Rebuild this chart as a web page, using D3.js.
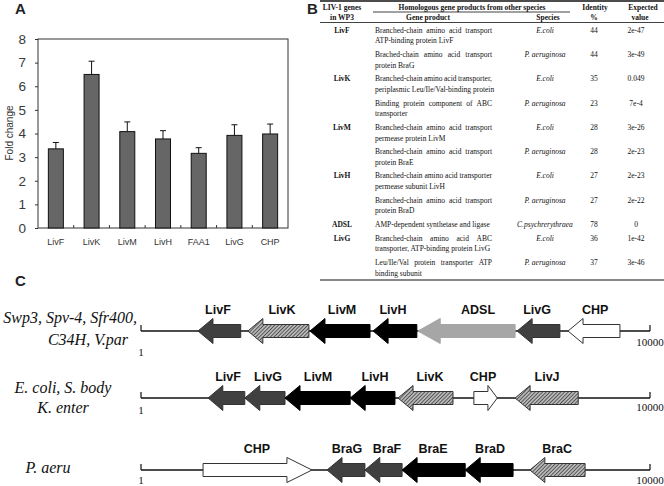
<!DOCTYPE html>
<html><head><meta charset="utf-8">
<script src="https://cdn.jsdelivr.net/npm/d3@7"></script>
<style>body{margin:0;background:#fff;} svg{display:block}</style>
</head><body>
<svg id="chart" width="664" height="486"></svg>
<script>
// ---------- Panel A data ----------
const barCategories = ["LivF","LivK","LivM","LivH","FAA1","LivG","CHP"];
const barValues = [3.35, 6.5, 4.08, 3.77, 3.16, 3.92, 3.98];
const barErrors = [0.27, 0.56, 0.41, 0.35, 0.24, 0.45, 0.42];
const yTickValues = [0,1,2,3,4,5,6,7,8];

// ---------- Panel B data ----------
const tableHeadTop = ["LIV-1 genes","Homologous gene products from other species","Identity","Expected"];
const tableHeadBottom = ["in WP3","Gene product","Species","%","value"];
const tableGenes = ["LivF","","LivK","","LivM","","LivH","","ADSL","LivG",""];
const tableProducts = [
  ["Branched-chain amino acid transport","ATP-binding protein LivF"],
  ["Brached-chain amino acid transport","protein BraG"],
  ["Branched-chain amino acid transporter,","periplasmic Leu/Ile/Val-binding protein"],
  ["Binding protein component of ABC","transporter"],
  ["Branched-chain amino acid transport","permease protein LivM"],
  ["Branched-chain amino acid transport","protein BraE"],
  ["Branched-chain amino acid transporter","permease subunit LivH"],
  ["Branched-chain amino acid transport","protein BraD"],
  ["AMP-dependent synthetase and ligase"],
  ["Branched-chain amino acid ABC","transporter, ATP-binding protein LivG"],
  ["Leu/Ile/Val protein transporter ATP","binding subunit"]
];
const tableSpecies = ["E.coli","P. aeruginosa","E.coli","P. aeruginosa","E.coli","P. aeruginosa","E.coli","P. aeruginosa","C.psychrerythraea","E.coli","P. aeruginosa"];
const tableIdentity = ["44","44","35","23","28","28","27","27","78","36","37"];
const tableEvalue = ["2e-47","3e-49","0.049","7e-4","3e-26","2e-23","2e-23","2e-22","0","1e-42","3e-46"];

// ---------- Panel C data ----------
// [gene, start bp, end bp, strand, kind, label centre bp]
const clusterLabels = [["Swp3, Spv-4, Sfr400,","C34H, V.par"],["E. coli, S. body","K. enter"],["P. aeru"]];
const clusterSwp3 = [
  ["LivF",1120,1960,-1,"dark",1513],
  ["LivK",2100,3300,-1,"hatch",2771],
  ["LivM",3320,4500,-1,"black",3950],
  ["LivH",4560,5420,-1,"black",4952],
  ["ADSL",5440,7350,-1,"light",6622],
  ["LivG",7390,8230,-1,"dark",7782],
  ["CHP",8390,9410,-1,"white",8922]
];
const clusterEcoli = [
  ["LivF",1320,2040,-1,"dark",1710],
  ["LivG",2040,2830,-1,"dark",2496],
  ["LivM",2830,4110,-1,"black",3478],
  ["LivH",4110,4990,-1,"black",4598],
  ["LivK",5050,6130,-1,"hatch",5679],
  ["CHP",6540,7000,1,"white",6720],
  ["LivJ",7350,8590,-1,"hatch",7978]
];
const clusterPaeru = [
  ["CHP",1220,3360,1,"white",2280],
  ["BraG",3655,4400,-1,"dark",4048],
  ["BraF",4400,5130,-1,"dark",4834],
  ["BraE",5130,6370,-1,"black",5738],
  ["BraD",6370,7310,-1,"black",6858],
  ["BraC",7640,8725,-1,"hatch",8175]
];
const clusterRange = [1, 10000];

const svg = d3.select("#chart");
const sans = "'Liberation Sans', Arial, sans-serif";
const serif = "'Liberation Serif', 'Times New Roman', serif";

// ================= Panel A =================
const A = svg.append("g");
A.append("text").attr("x",15).attr("y",14).attr("font-family",sans).attr("font-weight","bold")
  .attr("font-size",15).attr("fill","#222").text("A");
const x = d3.scaleBand().domain(barCategories).range([38,288]);
const y = d3.scaleLinear().domain([0,8]).range([228,39]);
const barW = 15;

const yAxis = A.append("g").attr("transform","translate(38,0)")
  .call(d3.axisLeft(y).tickValues(yTickValues).tickSize(3).tickPadding(9).tickFormat(d3.format("d")));
yAxis.select(".domain").remove();
yAxis.selectAll("line").attr("stroke","#333");
yAxis.selectAll("text").attr("font-family",sans).attr("font-size",13.5).attr("fill","#3a3a3a");

A.append("rect").attr("x",38).attr("y",39).attr("width",250).attr("height",189)
  .attr("fill","none").attr("stroke","#333").attr("stroke-width",1);
A.selectAll(".xt").data(barCategories.slice(1)).enter().append("line")
  .attr("x1",d=>x(d)).attr("x2",d=>x(d)).attr("y1",228).attr("y2",225).attr("stroke","#333");

A.selectAll(".bar").data(barCategories).enter().append("rect")
  .attr("x",d=>x(d)+x.bandwidth()/2-barW/2).attr("width",barW)
  .attr("y",(d,i)=>y(barValues[i])).attr("height",(d,i)=>y(0)-y(barValues[i]))
  .attr("fill","#666").attr("stroke","#111").attr("stroke-width",1);
A.selectAll(".err").data(barCategories).enter().append("path")
  .attr("d",(d,i)=>{const cx=x(d)+x.bandwidth()/2, t=y(barValues[i]+barErrors[i]), b=y(barValues[i]);
    return `M${cx},${b}V${t}M${cx-3},${t}H${cx+3}`;})
  .attr("stroke","#111").attr("stroke-width",1).attr("fill","none");
A.selectAll(".xl").data(barCategories).enter().append("text")
  .attr("x",d=>x(d)+x.bandwidth()/2).attr("y",245).attr("text-anchor","middle")
  .attr("font-family",sans).attr("font-size",9).attr("fill","#333").text(d=>d);
A.append("text").attr("transform","translate(13,133) rotate(-90)").attr("text-anchor","middle")
  .attr("font-family",sans).attr("font-size",10).attr("fill","#333").text("Fold change");

// ================= Panel B =================
const B = svg.append("g").attr("font-family",serif).attr("font-size",7.5).attr("fill","#111");
svg.append("text").attr("x",307).attr("y",14).attr("font-family",sans).attr("font-weight","bold")
  .attr("font-size",15).attr("fill","#222").text("B");
const colGene = 342, prodX0 = 375, prodX1 = 492, colSpecies = 545, colId = 594, colE = 636;
const hb = B.append("g").attr("font-weight","bold");
[[tableHeadTop[0],colGene],[tableHeadTop[1],472],[tableHeadTop[2],595],[tableHeadTop[3],643]]
  .forEach(([t,cx])=>hb.append("text").attr("x",cx).attr("y",9.5).attr("text-anchor","middle").text(t));
[[tableHeadBottom[0],colGene],[tableHeadBottom[1],428],[tableHeadBottom[2],548],[tableHeadBottom[3],594],[tableHeadBottom[4],640]]
  .forEach(([t,cx])=>hb.append("text").attr("x",cx).attr("y",19.5).attr("text-anchor","middle").text(t));
B.append("line").attr("x1",320).attr("x2",664).attr("y1",1).attr("y2",1).attr("stroke","#111").attr("stroke-width",1.6);
B.append("line").attr("x1",373).attr("x2",570).attr("y1",12).attr("y2",12).attr("stroke","#111").attr("stroke-width",0.8);
B.append("line").attr("x1",320).attr("x2",664).attr("y1",22.5).attr("y2",22.5).attr("stroke","#111").attr("stroke-width",0.8);

function justify(g, str, x0, x1, yy){
  const words = str.split(" ");
  const nodes = words.map(w=>g.append("text").attr("y",yy).text(w));
  const widths = nodes.map(n=>n.node().getComputedTextLength());
  const gap = (x1-x0-d3.sum(widths))/Math.max(1,words.length-1);
  let cx = x0;
  nodes.forEach((n,i)=>{n.attr("x",cx); cx += widths[i]+gap;});
}
let lineY = 30;
const within = 10.7, between = 13.6;
tableProducts.forEach((lines,i)=>{
  const base = lineY + 2.6;
  if (tableGenes[i]) B.append("text").attr("x",colGene).attr("y",base).attr("text-anchor","middle")
      .attr("font-weight","bold").text(tableGenes[i]);
  B.append("text").attr("x",colSpecies).attr("y",base).attr("text-anchor","middle")
      .attr("font-style","italic").text(tableSpecies[i]);
  B.append("text").attr("x",colId).attr("y",base).attr("text-anchor","middle").text(tableIdentity[i]);
  B.append("text").attr("x",colE).attr("y",base).attr("text-anchor","middle").text(tableEvalue[i]);
  lines.forEach((ln,j)=>{
    const yy = lineY + 2.6 + j*within;
    if (j < lines.length-1) justify(B, ln, prodX0, prodX1, yy);
    else B.append("text").attr("x",prodX0).attr("y",yy).text(ln);
  });
  lineY += (lines.length-1)*within + between;
});
B.append("line").attr("x1",320).attr("x2",664).attr("y1",280).attr("y2",280).attr("stroke","#111").attr("stroke-width",1);

// ================= Panel C =================
const defs = svg.append("defs");
const pat = defs.append("pattern").attr("id","hatch").attr("patternUnits","userSpaceOnUse")
  .attr("width",2.6).attr("height",2.6).attr("patternTransform","rotate(45)");
pat.append("rect").attr("width",2.6).attr("height",2.6).attr("fill","#b8b8b8");
pat.append("line").attr("x1",0).attr("x2",0).attr("y1",0).attr("y2",2.6).attr("stroke","#2a2a2a").attr("stroke-width",1.3);

svg.append("text").attr("x",15).attr("y",286).attr("font-family",sans).attr("font-weight","bold")
  .attr("font-size",15).attr("fill","#222").text("C");

const bp = d3.scaleLinear().domain(clusterRange).range([141,650]);
const fills = {dark:"#404040", black:"#000", hatch:"url(#hatch)", light:"#a6a6a6", white:"#fff"};
const strokes = {dark:"#333", black:"#000", hatch:"#333", light:"#a6a6a6", white:"#333"};

const rowsLayout = [
  {genes: clusterSwp3, cy:331, lab:[[137,323,"end"],[88,345,"middle"]], one:356, end:346},
  {genes: clusterEcoli, cy:398, lab:[[63,393,"middle"],[63,413,"middle"]], one:414, end:411},
  {genes: clusterPaeru, cy:470, lab:[[48,473,"middle"]], one:484, end:484}
];
const H = 25, Bh = 13;
rowsLayout.forEach((row,ri)=>{
  const g = svg.append("g");
  const cy = row.cy;
  g.append("line").attr("x1",bp(clusterRange[0])).attr("x2",bp(clusterRange[1])).attr("y1",cy).attr("y2",cy)
    .attr("stroke","#111").attr("stroke-width",1.5);
  g.append("line").attr("x1",bp(clusterRange[0])).attr("x2",bp(clusterRange[0])).attr("y1",cy-6).attr("y2",cy).attr("stroke","#111").attr("stroke-width",1.2);
  g.append("line").attr("x1",bp(clusterRange[1])).attr("x2",bp(clusterRange[1])).attr("y1",cy-6).attr("y2",cy).attr("stroke","#111").attr("stroke-width",1.2);
  g.append("text").attr("x",bp(clusterRange[0])).attr("y",row.one).attr("text-anchor","middle")
    .attr("font-family",serif).attr("font-size",11).attr("fill","#111").text(clusterRange[0]);
  g.append("text").attr("x",bp(clusterRange[1])).attr("y",row.end).attr("text-anchor","middle")
    .attr("font-family",serif).attr("font-size",11).attr("fill","#111").text(clusterRange[1]);
  clusterLabels[ri].forEach((t,k)=>{
    const [lx,ly,anc] = row.lab[k];
    g.append("text").attr("x",lx).attr("y",ly).attr("text-anchor",anc).attr("font-family",serif)
      .attr("font-style","italic").attr("font-size",16).attr("fill","#111").text(t);
  });
  row.genes.forEach(([name,s,e,strand,kind,labAt])=>{
    const x0 = bp(s), x1 = bp(e), len = x1-x0;
    const head = Math.min(Math.max(15, 0.23*len), len*0.4);
    let pts;
    if (strand < 0) {
      pts = [[x0,cy],[x0+head,cy-H/2],[x0+head,cy-Bh/2],[x1,cy-Bh/2],[x1,cy+Bh/2],[x0+head,cy+Bh/2],[x0+head,cy+H/2]];
    } else {
      pts = [[x1,cy],[x1-head,cy-H/2],[x1-head,cy-Bh/2],[x0,cy-Bh/2],[x0,cy+Bh/2],[x1-head,cy+Bh/2],[x1-head,cy+H/2]];
    }
    g.append("polygon").attr("points",pts.map(p=>p.join(",")).join(" "))
      .attr("fill",fills[kind]).attr("stroke",strokes[kind]).attr("stroke-width",1);
    g.append("text").attr("x",bp(labAt)).attr("y",cy-17).attr("text-anchor","middle")
      .attr("font-family",sans).attr("font-weight","bold").attr("font-size",12.5).attr("fill","#111").text(name);
  });
});
</script>
</body></html>
